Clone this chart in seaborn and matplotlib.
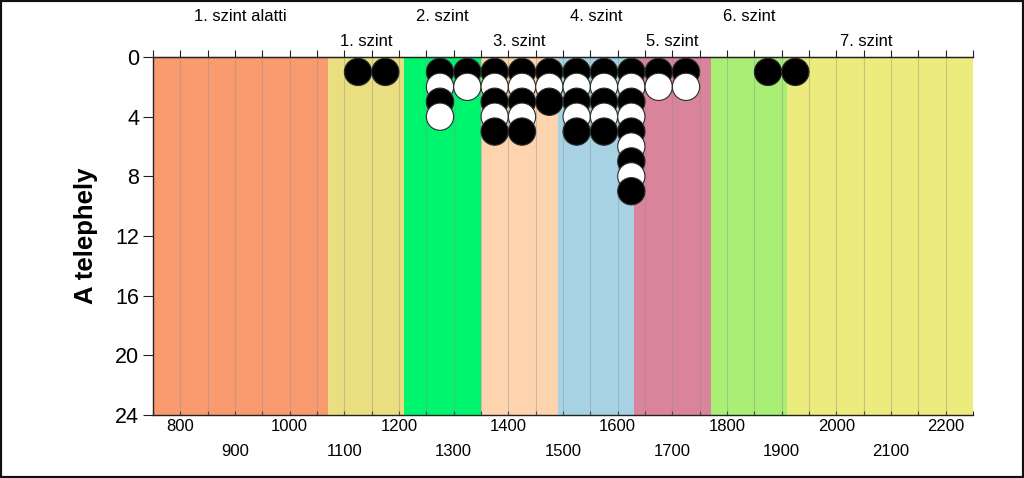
import numpy as np
import pandas as pd
import matplotlib
matplotlib.use("Agg")
import matplotlib.pyplot as plt
from matplotlib.patches import Rectangle
from matplotlib.transforms import blended_transform_factory
import seaborn as sns

# ---- data ----
band_names = ["1. szint alatti", "1. szint", "2. szint", "3. szint",
              "4. szint", "5. szint", "6. szint", "7. szint"]
band_start = [750, 1070, 1210, 1350, 1490, 1630, 1770, 1910]
band_end = [1070, 1210, 1350, 1490, 1630, 1770, 1910, 2200]

col_x = [1125, 1175, 1275, 1325, 1375, 1425, 1475, 1525, 1575, 1625, 1675, 1725, 1875, 1925]
col_stack = ["b", "b", "bwbw", "bw", "bwbwb", "bwbwb", "bwb", "bwbwb", "bwbwb",
             "bwbwbwbwb", "bw", "bw", "b", "b"]

x_major = list(range(800, 2201, 100))
y_ticks = [0, 4, 8, 12, 16, 20, 24]

# ---- style ----
band_colors = ["#F99B6F", "#E9DF80", "#00F56E", "#FDD4AE", "#A6D2E3",
               "#D9849A", "#A9EF76", "#ECEB7D"]
kind_palette = {"fekete": "black", "fehér": "white"}

rows = []
for x, stack in zip(col_x, col_stack):
    for i, c in enumerate(stack):
        rows.append({"x": x, "y": i + 1, "kind": "fekete" if c == "b" else "fehér"})
df = pd.DataFrame(rows)

sns.set_style("white")
plt.rcParams["font.family"] = ["Liberation Sans", "DejaVu Sans"]

fig = plt.figure(figsize=(10.24, 4.78), dpi=100)
ax = fig.add_axes([153 / 1024, 1 - 415 / 478, 820 / 1024, 358 / 478])

xmin, xmax = 750, 2250
for i, (s, e, col) in enumerate(zip(band_start, band_end, band_colors)):
    ee = xmax if i == len(band_start) - 1 else e
    ax.axvspan(s, ee, color=col, lw=0, zorder=0)

trans = blended_transform_factory(ax.transData, ax.transAxes)
for i, (name, s, e) in enumerate(zip(band_names, band_start, band_end)):
    yy = 1.1145 if i % 2 == 0 else 1.042
    ax.text((s + e) / 2, yy, name, transform=trans, ha="center", va="center",
            fontsize=12, color="black")

sns.scatterplot(data=df, x="x", y="y", hue="kind", palette=kind_palette,
                s=385, edgecolor="#2a2a2a", linewidth=0.8, legend=False,
                ax=ax, zorder=3)

ax.set_xlim(xmin, xmax)
ax.set_ylim(24, 0)
ax.set_yticks(y_ticks)
ax.set_xticks(x_major)
ax.set_xticks(list(range(750, 2251, 50)), minor=True)
ax.set_xticklabels([str(v) for v in x_major])
ax.set_xlabel("")
ax.set_ylabel("A telephely", fontsize=18.5, fontweight="bold", labelpad=12,
              color="black")

ax.grid(False)
for v in range(800, 2250, 50):
    ax.axvline(v, color="#8c8c8c", alpha=0.4, lw=0.8, zorder=1)

for sp in ["left", "bottom", "top"]:
    ax.spines[sp].set_visible(True)
    ax.spines[sp].set_color("#222222")
    ax.spines[sp].set_linewidth(1.0)
ax.spines["right"].set_visible(False)

ax.tick_params(axis="y", which="major", direction="out", length=7, width=0.8,
               left=True, labelsize=15.5, pad=3, colors="#222222", labelcolor="black")
ax.tick_params(axis="x", which="both", direction="in", length=3, width=0.8,
               bottom=True, top=False, labelsize=12, colors="#222222", labelcolor="black")

sec = ax.secondary_xaxis("top")
sec.set_xticks(list(range(750, 2251, 50)))
sec.set_xticklabels([])
sec.tick_params(direction="out", length=5, width=0.8, colors="#222222")
sec.spines["top"].set_color("#222222")

for v, tick in zip(x_major, ax.xaxis.get_major_ticks()):
    tick.set_pad(3 if (v // 100) % 2 == 0 else 21)

fig.patches.append(Rectangle((0, 0), 1, 1, transform=fig.transFigure, fill=False,
                             edgecolor="#111111", lw=3))

fig.savefig("out.png", dpi=100)
